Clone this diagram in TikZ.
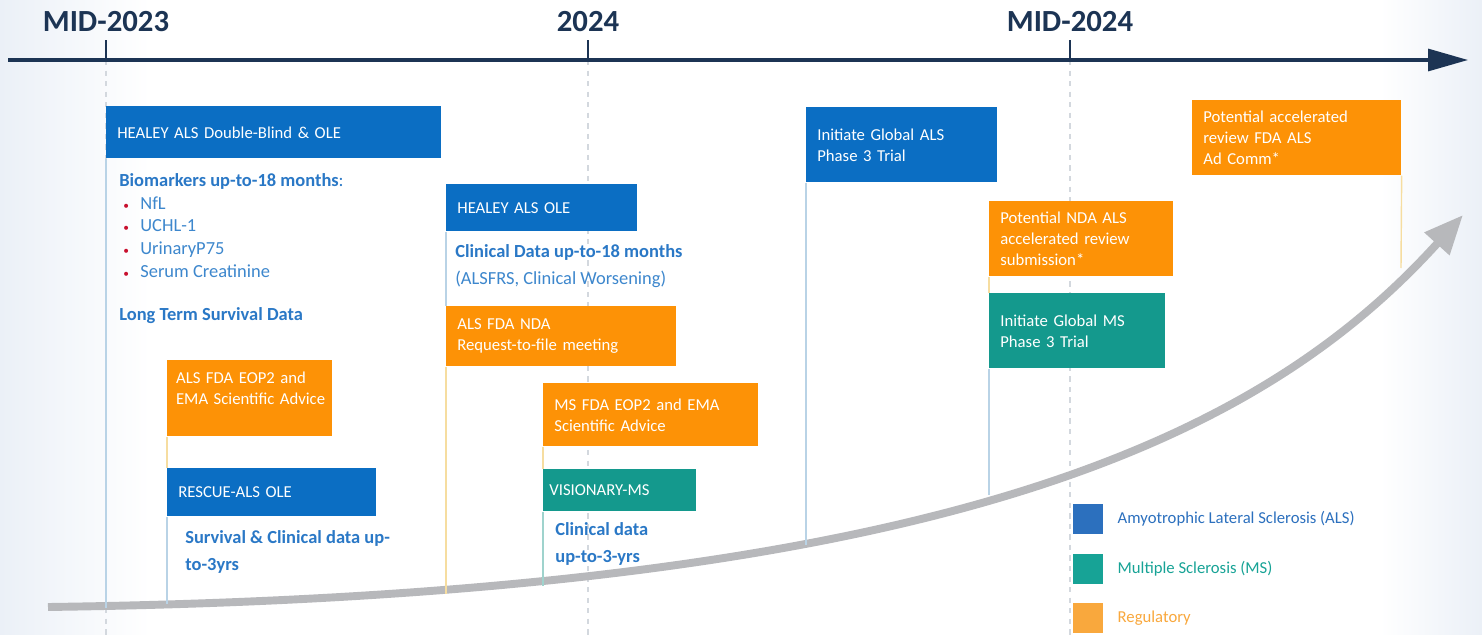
\documentclass[tikz,border=0pt]{standalone}
\usepackage{fontspec}
\setmainfont{Carlito}
\usepackage{xcolor}
\usetikzlibrary{arrows.meta,positioning}
\definecolor{ALSBlue}{HTML}{0B6EC3}
\definecolor{MSTeal}{HTML}{14998D}
\definecolor{RegOrange}{HTML}{FD9206}
\definecolor{AxisNavy}{HTML}{1C3454}
\definecolor{NoteBlue}{HTML}{2A78C6}
\definecolor{ItemBlue}{HTML}{3D87CD}
\definecolor{BulletRed}{HTML}{C8102E}
\definecolor{LegBlue}{HTML}{2C70BE}
\definecolor{LegTeal}{HTML}{17A396}
\definecolor{LegOrange}{HTML}{F9A83D}
\definecolor{StemBlue}{HTML}{B9D3E6}
\definecolor{StemYellow}{HTML}{F6DDA0}
\definecolor{StemTeal}{HTML}{9FD3CD}
\definecolor{GridGray}{HTML}{D3D8DE}
\definecolor{TrendGray}{HTML}{B7B8BB}
\definecolor{BackTint}{HTML}{EBF0F7}
\newcommand{\redbullet}{\makebox[0.34cm][l]{\textcolor{BulletRed}{\fontsize{6.5}{6.5}\selectfont\textbullet}}}
\tikzset{
    % Base box style
    basebox/.style={
        rectangle,
        anchor=north west,
        inner xsep=0.22cm,
        inner ysep=0pt,
        align=left,
        text=white,
        font=\fontsize{9.5}{12}\selectfont
    },
    % ALS programme box
    alsbox/.style={basebox, fill=ALSBlue},
    % MS programme box
    msbox/.style={basebox, fill=MSTeal},
    % Regulatory box
    regbox/.style={basebox, fill=RegOrange},
    % Notes under the boxes
    notebold/.style={
        anchor=west,
        inner sep=0pt,
        align=left,
        text=NoteBlue,
        font=\fontsize{10.5}{15.5}\selectfont\bfseries
    },
    notetext/.style={
        anchor=west,
        inner sep=0pt,
        align=left,
        text=ItemBlue,
        font=\fontsize{10.5}{12.9}\selectfont
    },
    % Axis labels
    yearlabel/.style={
        anchor=base,
        inner sep=0pt,
        text=AxisNavy,
        font=\fontsize{17.5}{20}\selectfont\bfseries
    },
    timeaxis/.style={
        -{Triangle[length=0.8cm,width=0.44cm]},
        line width=1.8pt,
        draw=AxisNavy
    },
    tickmark/.style={line width=1.2pt, draw=AxisNavy},
    gridline/.style={dashed, line width=0.6pt, draw=GridGray},
    stemline/.style={line width=0.8pt},
    trendarrow/.style={
        -{Triangle[length=0.78cm,width=0.64cm]},
        line width=4.5pt,
        draw=TrendGray
    },
    % Legend
    legsquare/.style={rectangle, minimum size=0.6cm, inner sep=0pt},
    legtext/.style={inner sep=0pt, font=\fontsize{9.5}{11}\selectfont}
}

\begin{document}
\begin{tikzpicture}[x=0.02cm, y=-0.02cm]
    \useasboundingbox (0,0) rectangle (1482,635);
    \fill[white] (0,0) rectangle (1482,635);
    \fill[left color=BackTint, right color=white] (0,0) rectangle (150,635);
    \fill[left color=white, right color=BackTint] (1380,0) rectangle (1482,635);

    % Time axis
    \coordinate (axstart) at (8,60);
    \coordinate (axend) at (1468,60);
    \coordinate (t2023) at (106,60);
    \coordinate (t2024) at (588,60);
    \coordinate (tmid2024) at (1070,60);
    \coordinate (g2023) at (106,635);
    \coordinate (g2024) at (588,635);
    \coordinate (gmid2024) at (1070,635);
    \draw[gridline] (t2023) -- (g2023);
    \draw[gridline] (t2024) -- (g2024);
    \draw[gridline] (tmid2024) -- (gmid2024);
    \draw[timeaxis] (axstart) -- (axend);
    \draw[tickmark] (t2023) -- ++(0,-20);
    \draw[tickmark] (t2024) -- ++(0,-20);
    \draw[tickmark] (tmid2024) -- ++(0,-20);
    \node[yearlabel] (y2023) at (106,32) {MID-2023};
    \node[yearlabel] (y2024) at (588,32) {2024};
    \node[yearlabel] (ymid2024) at (1070,32) {MID-2024};

    % Trend arrow
    \coordinate (trendstart) at (48,607);
    \coordinate (trendend) at (1463,215);
    \draw[trendarrow] (trendstart) .. controls (930,595) and (1255,445) .. (trendend);

    % Column 1: HEALEY double-blind and RESCUE
    \node[alsbox, text width=6.26cm, minimum height=1.04cm] (hdb) at (106,106) {HEALEY ALS Double-Blind \& OLE};
    \coordinate (hdbend) at (106,608);
    \draw[stemline, StemBlue] (hdb.south west) -- (hdbend);
    \node[notebold] (biotitle) at (119,181) {Biomarkers up-to-18 months\mdseries:};
    \node[notetext] (biolist) at (123,237) {\redbullet NfL\\ \redbullet UCHL-1\\ \redbullet UrinaryP75\\ \redbullet Serum Creatinine};
    \node[notebold] (survival) at (119,316) {Long Term Survival Data};

    \node[regbox, text width=2.95cm, inner xsep=0.175cm, minimum height=1.52cm] (eopals) at (167,360) {ALS FDA EOP2 and\\ \mbox{EMA Scientific Advice}\\ \mbox{}};
    \node[alsbox, text width=3.74cm, minimum height=0.96cm] (rescue) at (167,468) {RESCUE-ALS OLE};
    \draw[stemline, StemYellow] (eopals.south west) -- (rescue.north west);
    \coordinate (rescueend) at (167,604);
    \draw[stemline, StemBlue] (rescue.south west) -- (rescueend);
    \node[notebold] (rescuedata) at (185,552) {Survival \& Clinical data up-\\to-3yrs};

    % Column 2: HEALEY OLE and VISIONARY
    \node[alsbox, text width=3.38cm, minimum height=0.94cm] (hole) at (446,184) {HEALEY ALS OLE};
    \node[notebold] (clindata) at (455,252) {Clinical Data up-to-18 months};
    \node[notetext] (alsfrs) at (455,279) {(ALSFRS, Clinical Worsening)};
    \node[regbox, text width=4.16cm, minimum height=1.20cm] (nda) at (446,306) {ALS FDA NDA\\ Request-to-file meeting};
    \draw[stemline, StemBlue] (hole.south west) -- (nda.north west);
    \coordinate (ndaend) at (446,594);
    \draw[stemline, StemYellow] (nda.south west) -- (ndaend);

    \node[regbox, text width=3.86cm, minimum height=1.26cm] (eopms) at (543,383) {MS FDA EOP2 and EMA\\ Scientific Advice};
    \node[msbox, text width=2.82cm, minimum height=0.84cm, inner xsep=0.12cm] (visionary) at (543,469) {VISIONARY-MS};
    \draw[stemline, StemYellow] (eopms.south west) -- (visionary.north west);
    \coordinate (visionaryend) at (543,586);
    \draw[stemline, StemTeal] (visionary.south west) -- (visionaryend);
    \node[notebold, font=\fontsize{10.5}{15.3}\selectfont\bfseries] (msdata) at (555,544) {Clinical data\\up-to-3-yrs};

    % Column 3: Phase 3 and submissions
    \node[alsbox, text width=3.38cm, minimum height=1.50cm] (alsp3) at (806,107) {Initiate Global ALS\\ Phase 3 Trial};
    \coordinate (alsp3end) at (806,545);
    \draw[stemline, StemBlue] (alsp3.south west) -- (alsp3end);

    \node[regbox, text width=3.24cm, minimum height=1.50cm] (ndasub) at (989,201) {Potential NDA ALS\\ accelerated review\\ submission*};
    \node[msbox, text width=3.08cm, minimum height=1.50cm] (msp3) at (989,293) {Initiate Global MS\\ Phase 3 Trial};
    \draw[stemline, StemYellow] (ndasub.south west) -- (msp3.north west);
    \coordinate (msp3end) at (989,495);
    \draw[stemline, StemBlue] (msp3.south west) -- (msp3end);

    \node[regbox, text width=3.74cm, minimum height=1.50cm] (adcomm) at (1192,100) {Potential accelerated\\ review FDA ALS\\ Ad Comm*};
    \coordinate (adcommend) at (1401,268);
    \draw[stemline, StemYellow] (adcomm.south east) -- (adcommend);

    % Legend
    \node[legsquare, fill=LegBlue] (legals) at (1088,519) {};
    \node[legsquare, fill=LegTeal] (legms) at (1088,569) {};
    \node[legsquare, fill=LegOrange] (legreg) at (1088,618) {};
    \node[legtext, right=0.28cm of legals, text=LegBlue] (legalstext) {Amyotrophic Lateral Sclerosis (ALS)};
    \node[legtext, right=0.28cm of legms, text=LegTeal] (legmstext) {Multiple Sclerosis (MS)};
    \node[legtext, right=0.28cm of legreg, text=LegOrange] (legregtext) {Regulatory};
\end{tikzpicture}
\end{document}
